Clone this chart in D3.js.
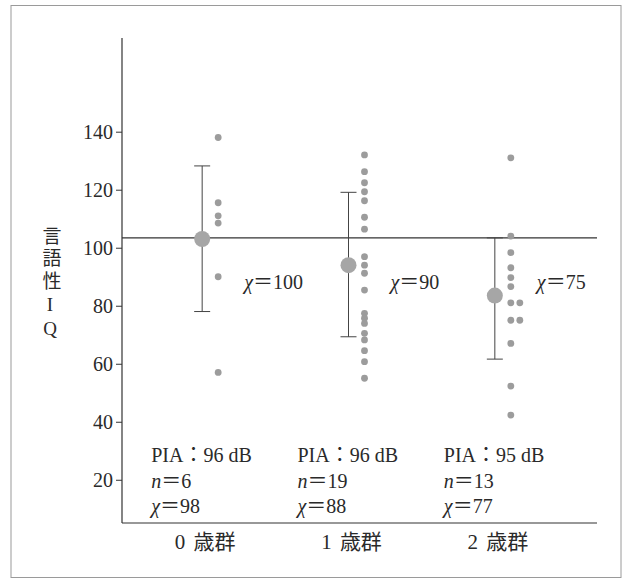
<!DOCTYPE html>
<html><head><meta charset="utf-8">
<script src="https://cdn.jsdelivr.net/npm/d3@7"></script>
<style>
html,body{margin:0;padding:0;background:#fff;}
svg{display:block;}
text{font-family:"Liberation Serif","Noto Sans CJK JP",serif;fill:#2a2a2a;}
</style></head>
<body>
<script>
// ---- data ----
const ages = ["0", "1", "2"];
const categories = ages.map(a => a + " 歳群");
const meanValues = [103, 94, 83.5];
const sdLow = [78, 69.3, 61.6];
const sdHigh = [128.2, 119.1, 103.4];
const group0 = [138, 115.5, 111, 108.5, 90, 57];
const group1 = [132, 126.2, 122.4, 119.3, 116.2, 110.5, 106.4, 96.9, 94, 91.2, 85.4, 77.4, 75.7, 73.9, 70.5, 68.2, 64.5, 60.7, 55];
const group2 = [131, 104, 98.3, 93.1, 89.7, 86.6, 81, 81, 75, 75, 67, 52.3, 42.3];
const groups = [group0, group1, group2];
const refValue = 103.4;
const chiLabels = ["100", "90", "75"];
const piaLabels = ["96 dB", "96 dB", "95 dB"];
const nLabels = ["6", "19", "13"];
const meanLabels = ["98", "88", "77"];
const yTicks = [20, 40, 60, 80, 100, 120, 140];
const yLabelText = "言語性IQ";

// ---- layout ----
const W = 627, H = 580;
const svg = d3.select("body").append("svg").attr("width", W).attr("height", H);

svg.append("rect").attr("x", 11).attr("y", 5.5).attr("width", 610).attr("height", 572)
  .attr("fill", "none").attr("stroke", "#9a9a9a").attr("stroke-width", 1);

const x0 = 122, x1 = 597, yBottom = 523, yTop = 38;
const y = d3.scaleLinear().domain([5.1, 172.3]).range([yBottom, yTop]);
const x = d3.scaleBand().domain(categories).range([137, 576]).padding(0);
const cx = i => x(categories[i]) + x.bandwidth() / 2;

// y axis
const yAxis = d3.axisLeft(y).tickValues(yTicks).tickSize(6).tickPadding(3);
const gy = svg.append("g").attr("transform", `translate(${x0},0)`).call(yAxis);
gy.select(".domain").remove();
gy.selectAll(".tick line").attr("stroke", "#333");
gy.selectAll(".tick text").attr("font-size", 20).attr("fill", "#2a2a2a")
  .style("font-family", "Liberation Serif");
svg.append("line").attr("x1", x0).attr("x2", x0).attr("y1", yTop).attr("y2", yBottom)
  .attr("stroke", "#333").attr("stroke-width", 1.2);

// x axis line + category labels
svg.append("line").attr("x1", x0).attr("x2", x1).attr("y1", yBottom).attr("y2", yBottom)
  .attr("stroke", "#333").attr("stroke-width", 1.2);
const xAxis = d3.axisBottom(x).tickSize(0).tickPadding(0);
const gx = svg.append("g").attr("transform", `translate(0,${yBottom})`).call(xAxis);
gx.select(".domain").remove();
gx.selectAll(".tick text").attr("font-size", 21).attr("fill", "#2a2a2a")
  .attr("dy", null).attr("y", 26).attr("dx", -5)
  .style("font-family", "'Liberation Serif','Noto Sans CJK JP'")
  .style("word-spacing", "3px");

// reference line
svg.append("line").attr("x1", x0).attr("x2", x1).attr("y1", y(refValue)).attr("y2", y(refValue))
  .attr("stroke", "#333").attr("stroke-width", 1.2);

// y label (vertical)
svg.append("text")
  .attr("x", 50).attr("y", 226)
  .attr("font-size", 19)
  .style("writing-mode", "vertical-rl")
  .style("text-orientation", "upright")
  .style("letter-spacing", "3.5px")
  .style("font-family", "'Liberation Serif','Noto Sans CJK JP'")
  .text(yLabelText);

// error bars, means, points, labels
groups.forEach((g, i) => {
  const mx = cx(i) - 8;
  const gg = svg.append("g");
  gg.append("line").attr("x1", mx).attr("x2", mx).attr("y1", y(sdHigh[i])).attr("y2", y(sdLow[i]))
    .attr("stroke", "#444").attr("stroke-width", 1);
  [sdHigh[i], sdLow[i]].forEach(v => {
    gg.append("line").attr("x1", mx - 8).attr("x2", mx + 8).attr("y1", y(v)).attr("y2", y(v))
      .attr("stroke", "#444").attr("stroke-width", 1);
  });
  gg.append("circle").attr("cx", mx).attr("cy", y(meanValues[i])).attr("r", 8)
    .attr("fill", "#a6a6a6");
  const seen = {};
  gg.selectAll("circle.pt").data(g).join("circle").attr("class", "pt")
    .attr("cx", d => { const k = seen[d] || 0; seen[d] = k + 1; return cx(i) + 8 + k * 9; })
    .attr("cy", d => y(d)).attr("r", 3.4).attr("fill", "#9c9c9c");
  const t = svg.append("text").attr("x", cx(i) + 34).attr("y", 289).attr("font-size", 20);
  t.append("tspan").style("font-style", "italic").text("χ");
  t.append("tspan").text("＝" + chiLabels[i]);
  const ax = cx(i) - 59;
  const t1 = svg.append("text").attr("x", ax).attr("y", 462).attr("font-size", 20);
  t1.append("tspan").text("PIA");
  t1.append("tspan").text("：");
  t1.append("tspan").text(piaLabels[i]);
  const t2 = svg.append("text").attr("x", ax).attr("y", 488).attr("font-size", 20);
  t2.append("tspan").style("font-style", "italic").text("n");
  t2.append("tspan").text("＝" + nLabels[i]);
  const t3 = svg.append("text").attr("x", ax).attr("y", 513).attr("font-size", 20);
  t3.append("tspan").style("font-style", "italic").text("χ");
  t3.append("tspan").text("＝" + meanLabels[i]);
});
</script>
</body></html>
